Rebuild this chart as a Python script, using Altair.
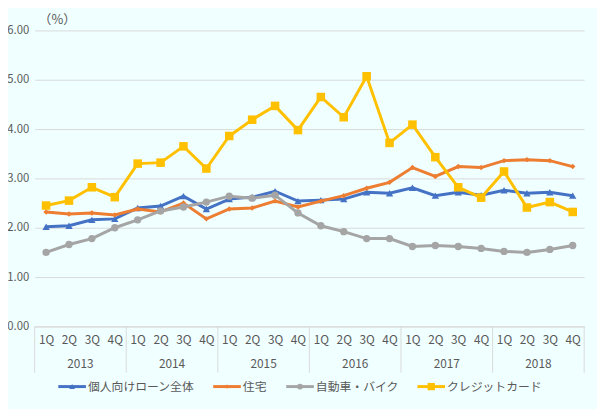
import altair as alt
import pandas as pd

years = ["2013", "2014", "2015", "2016", "2017", "2018"]
quarters = ["1Q", "2Q", "3Q", "4Q"]

series_names = ["個人向けローン全体", "住宅", "自動車・バイク", "クレジットカード"]

total = [2.02, 2.04, 2.16, 2.18, 2.40, 2.44, 2.64, 2.38, 2.58, 2.62, 2.74, 2.54,
         2.56, 2.58, 2.72, 2.70, 2.81, 2.65, 2.72, 2.66, 2.76, 2.70, 2.72, 2.65]
housing = [2.32, 2.28, 2.30, 2.26, 2.38, 2.32, 2.50, 2.18, 2.38, 2.40, 2.54, 2.42,
           2.54, 2.65, 2.80, 2.92, 3.22, 3.04, 3.24, 3.22, 3.36, 3.38, 3.36, 3.24]
auto = [1.50, 1.66, 1.78, 2.00, 2.16, 2.34, 2.42, 2.52, 2.64, 2.60, 2.66, 2.30,
        2.04, 1.92, 1.78, 1.78, 1.62, 1.64, 1.62, 1.58, 1.52, 1.50, 1.56, 1.64]
credit = [2.45, 2.55, 2.82, 2.62, 3.30, 3.32, 3.65, 3.20, 3.86, 4.19, 4.47, 3.98,
          4.65, 4.24, 5.07, 3.72, 4.09, 3.43, 2.82, 2.61, 3.14, 2.41, 2.52, 2.32]

values = [total, housing, auto, credit]
colors = ["#4472C4", "#ED7D31", "#A5A5A5", "#FFC000"]
shapes = ["triangle-up", "diamond", "circle", "square"]
sizes = [55, 30, 55, 75]
legend_sizes = [35, 20, 35, 55]

W, H = 557, 300
FONT = "Noto Sans CJK JP"
TXT = "#595959"
GRID = "#D9D9D9"

n = len(years) * len(quarters)
idx = list(range(n))

xscale = alt.Scale(domain=[-0.5, n - 0.5], nice=False, zero=False)
yscale = alt.Scale(domain=[0, 6], nice=False)

x_axis = alt.Axis(values=idx, labelExpr="['1Q','2Q','3Q','4Q'][datum.value % 4]",
                  ticks=False, grid=False, domainColor=GRID, domainWidth=1,
                  labelColor=TXT, labelFont=FONT, labelFontSize=12,
                  labelPadding=8, title=None, labelFlush=False,
                  labelOverlap=False, labelBound=False)
y_axis = alt.Axis(values=[0, 1, 2, 3, 4, 5, 6], format=".2f", ticks=False,
                  domain=False, grid=True, gridColor=GRID, labelColor=TXT,
                  labelFont=FONT, labelFontSize=11.5, labelPadding=6, title=None,
                  labelOverlap=False)

X = lambda f: alt.X(f, scale=xscale, axis=x_axis)
Y = lambda f: alt.Y(f, scale=yscale, axis=y_axis)

layers = []

# base axes layer (invisible)
base_df = pd.DataFrame({"i": idx, "v": total})
layers.append(
    alt.Chart(base_df).mark_point(opacity=0).encode(x=X("i:Q"), y=Y("v:Q"))
)

# year separators
sep_df = pd.DataFrame({"s": [-0.5 + 4 * k for k in range(len(years) + 1)]})
layers.append(
    alt.Chart(sep_df).mark_rule(color=GRID, strokeWidth=1).encode(
        x=X("s:Q"), y=alt.value(H), y2=alt.value(H + 47),
    )
)

# year labels
yr_df = pd.DataFrame({"c": [1.5 + 4 * k for k in range(len(years))], "t": years})
layers.append(
    alt.Chart(yr_df).mark_text(font=FONT, fontSize=12, color=TXT, baseline="middle").encode(
        x=X("c:Q"), y=alt.value(H + 38), text="t:N",
    )
)

# series
for name, vals, col, shp, sz in zip(series_names, values, colors, shapes, sizes):
    df = pd.DataFrame({"i": idx, "v": vals, "s": name})
    layers.append(
        alt.Chart(df).mark_line(color=col, strokeWidth=3).encode(x=X("i:Q"), y=Y("v:Q"))
    )
    layers.append(
        alt.Chart(df).mark_point(color=col, filled=True, opacity=1, shape=shp, size=sz).encode(
            x=X("i:Q"), y=Y("v:Q")
        )
    )

# unit label
unit_df = pd.DataFrame({"t": ["（%）"]})
layers.append(
    alt.Chart(unit_df).mark_text(font=FONT, fontSize=13, color=TXT, align="left",
                                 baseline="middle").encode(
        x=alt.value(4), y=alt.value(-11), text="t:N"
    )
)

# legend
leg_line_start = [24, 181, 255, 388]
leg_y = H + 61
for k, (name, col, shp, lsz) in enumerate(zip(series_names, colors, shapes, legend_sizes)):
    x0 = leg_line_start[k]
    ldf = pd.DataFrame({"t": [name]})
    layers.append(
        alt.Chart(ldf).mark_rule(color=col, strokeWidth=3).encode(
            x=alt.value(x0), x2=alt.value(x0 + 28), y=alt.value(leg_y)
        )
    )
    layers.append(
        alt.Chart(ldf).mark_point(color=col, filled=True, opacity=1, shape=shp, size=lsz).encode(
            x=alt.value(x0 + 14), y=alt.value(leg_y)
        )
    )
    layers.append(
        alt.Chart(ldf).mark_text(font=FONT, fontSize=12, color=TXT, align="left",
                                 baseline="middle").encode(
            x=alt.value(x0 + 30), y=alt.value(leg_y), text="t:N"
        )
    )

chart = alt.layer(*layers).properties(
    width=W, height=H,
    autosize=alt.AutoSizeParams(type="none"),
    padding={"left": 27, "top": 20, "right": 13, "bottom": 81},
    background="#F0FFFF",
).configure_view(stroke=None)

chart.save("out.html", embed_options={"renderer": "svg", "actions": False})
